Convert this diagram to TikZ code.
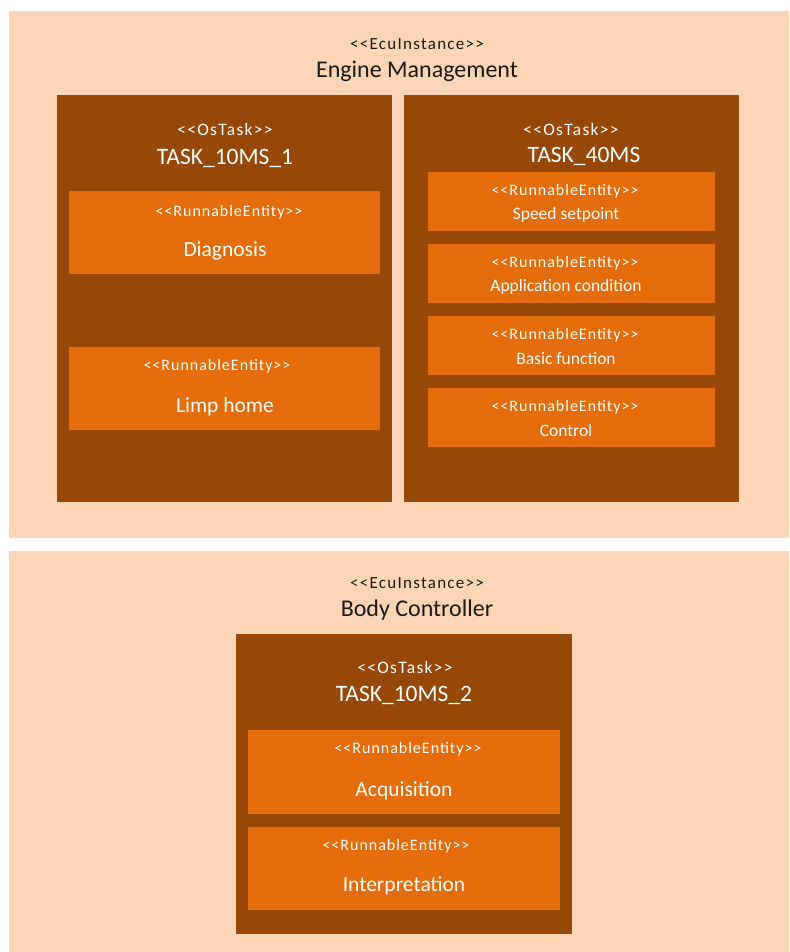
\documentclass[tikz,border=0pt]{standalone}
\usepackage{fontspec}
\setmainfont{Carlito}[Ligatures=TeXOff]
\newfontfamily\ecustfont{Carlito}[Ligatures=TeXOff,LetterSpace=7.5]
\newfontfamily\taskstfont{Carlito}[Ligatures=TeXOff,LetterSpace=7.4]
\newfontfamily\runstfont{Carlito}[Ligatures=TeXOff,LetterSpace=6.2]
\definecolor{peach}{HTML}{FBD5B5}
\definecolor{taskbrown}{HTML}{974806}
\definecolor{runorange}{HTML}{E46C0A}
\definecolor{darktext}{HTML}{1A1A1A}
\begin{document}
\begin{tikzpicture}[x=1pt,y=-1pt,
  box/.style={anchor=north west,inner sep=0pt,outer sep=0pt,draw=none},
  ecubox/.style={box,fill=peach},
  taskbox/.style={box,fill=taskbrown},
  runbox/.style={box,fill=runorange},
  label/.style={inner sep=0pt,yshift=-1.5pt},
  stereo/.style={label,text=darktext,font=\ecustfont\fontsize{17}{19}\selectfont},
  ecuname/.style={label,text=darktext,font=\fontsize{24}{28}\selectfont},
  taskstereo/.style={label,text=white,font=\taskstfont\fontsize{17.5}{20}\selectfont},
  taskname/.style={label,text=white,font=\fontsize{23.5}{27}\selectfont},
  runstereo/.style={label,text=white,font=\runstfont\fontsize{16}{18}\selectfont},
  runname/.style={label,text=white,font=\fontsize{21.5}{25}\selectfont},
  runnamesm/.style={label,text=white,font=\fontsize{17.5}{20}\selectfont},
]
\fill[white] (0,0) rectangle (789,952);
\useasboundingbox (0,0) rectangle (789,952);
% ECU 1
\node[ecubox,minimum width=780pt,minimum height=527pt] (ecu1) at (9,11) {};
\node[stereo] (ecu1s) at (417,43) {<<EcuInstance>>};
\node[ecuname] (ecu1n) at (417,70) {Engine Management};
% Task 10ms 1
\node[taskbox,minimum width=335pt,minimum height=407pt] (t1) at (57,95) {};
\node[taskstereo] (t1s) at (225,128) {<<OsTask>>};
\node[taskname] (t1n) at (225,157) {TASK\_10MS\_1};
\node[runbox,minimum width=311pt,minimum height=83pt] (r1) at (69,191) {};
\node[runstereo] (r1s) at (229,211) {<<RunnableEntity>>};
\node[runname] (r1n) at (225,249) {Diagnosis};
\node[runbox,minimum width=311pt,minimum height=83pt] (r2) at (69,347) {};
\node[runstereo] (r2s) at (217,365) {<<RunnableEntity>>};
\node[runname] (r2n) at (225,405) {Limp home};
% Task 40ms
\node[taskbox,minimum width=335pt,minimum height=407pt] (t2) at (404,95) {};
\node[taskstereo] (t2s) at (571,128) {<<OsTask>>};
\node[taskname] (t2n) at (584,155) {TASK\_40MS};
\node[runbox,minimum width=287pt,minimum height=59pt] (r3) at (428,172) {};
\node[runstereo] (r3s) at (565,190) {<<RunnableEntity>>};
\node[runnamesm] (r3n) at (566,213) {Speed setpoint};
\node[runbox,minimum width=287pt,minimum height=59pt] (r4) at (428,244) {};
\node[runstereo] (r4s) at (565,262) {<<RunnableEntity>>};
\node[runnamesm] (r4n) at (566,285) {Application condition};
\node[runbox,minimum width=287pt,minimum height=59pt] (r5) at (428,316) {};
\node[runstereo] (r5s) at (565,334) {<<RunnableEntity>>};
\node[runnamesm] (r5n) at (566,357) {Basic function};
\node[runbox,minimum width=287pt,minimum height=59pt] (r6) at (428,388) {};
\node[runstereo] (r6s) at (565,406) {<<RunnableEntity>>};
\node[runnamesm] (r6n) at (566,429) {Control};
% ECU 2
\node[ecubox,minimum width=780pt,minimum height=401pt] (ecu2) at (9,551) {};
\node[stereo] (ecu2s) at (417,582) {<<EcuInstance>>};
\node[ecuname] (ecu2n) at (417,609) {Body Controller};
\node[taskbox,minimum width=336pt,minimum height=300pt] (t3) at (236,634) {};
\node[taskstereo] (t3s) at (405,666) {<<OsTask>>};
\node[taskname] (t3n) at (404,694) {TASK\_10MS\_2};
\node[runbox,minimum width=312pt,minimum height=84pt] (r7) at (248,730) {};
\node[runstereo] (r7s) at (408,748) {<<RunnableEntity>>};
\node[runname] (r7n) at (404,789) {Acquisition};
\node[runbox,minimum width=312pt,minimum height=83pt] (r8) at (248,827) {};
\node[runstereo] (r8s) at (396,845) {<<RunnableEntity>>};
\node[runname] (r8n) at (404,884) {Interpretation};
\end{tikzpicture}
\end{document}
